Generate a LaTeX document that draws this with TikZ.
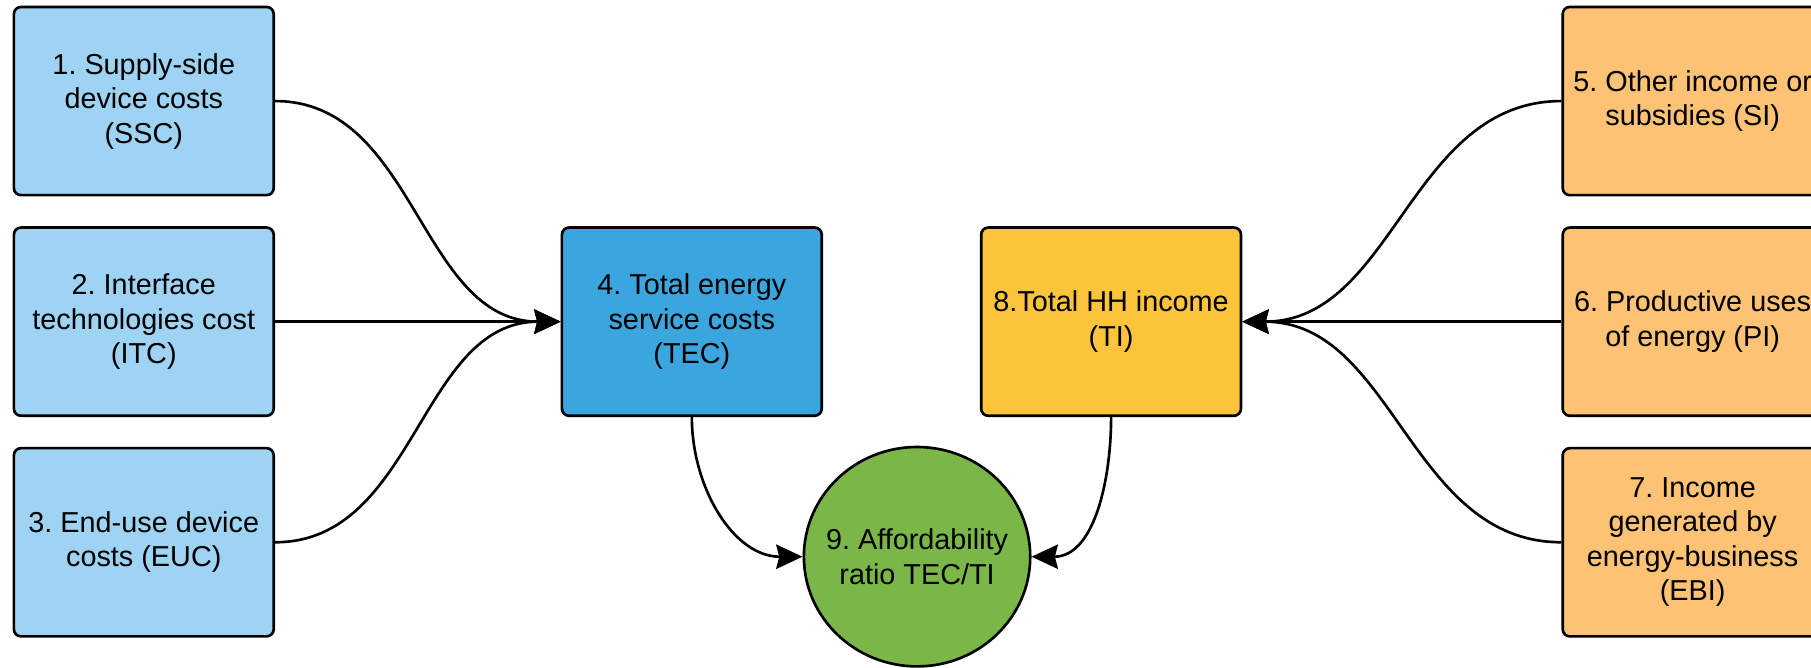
\documentclass[tikz,border=0pt]{standalone}
\usepackage{fontspec}
\setmainfont{Liberation Sans}
\usetikzlibrary{arrows.meta,shapes.geometric}
\definecolor{lblue}{HTML}{9ED3F3}
\definecolor{dblue}{HTML}{3BA5DD}
\definecolor{hhyellow}{HTML}{FCC43B}
\definecolor{lorange}{HTML}{FDC273}
\definecolor{cgreen}{HTML}{7AB648}
\tikzset{
  lbl/.style={align=center, font=\fontsize{14.2}{17}\selectfont},
  box/.style={lbl, draw=black, line width=1.3pt, rounded corners=3.5pt, minimum width=4.5cm, minimum height=3.26cm,
    inner sep=2pt},
  costbox/.style={box, fill=lblue},
  tecbox/.style={box, fill=dblue},
  incbox/.style={box, fill=lorange},
  hhbox/.style={box, fill=hhyellow},
  ratio/.style={draw=black, line width=1.3pt, ellipse, fill=cgreen, minimum width=3.92cm, minimum height=3.8cm,
    inner sep=0pt},
  conn/.style={draw=black, line width=1.3pt, -{Stealth[length=13pt,width=12pt,inset=1.5pt]}}
}
\begin{document}
\frenchspacing
\begin{tikzpicture}[x=0.02cm, y=-0.02cm]
\useasboundingbox (0,0) rectangle (1568,578);
\clip (0,0) rectangle (1568,578);
\node[costbox] (b1) at (124.5,87.5) {1. Supply-side\\device costs\\(SSC)};
\node[costbox] (b2) at (124.5,278.5) {2. Interface\\technologies cost\\(ITC)};
\node[costbox] (b3) at (124.5,469.5) {3. End-use device\\costs (EUC)};
\node[tecbox] (b4) at (599,278.5) {4. Total energy\\service costs\\(TEC)};
\node[hhbox] (b8) at (962,278.5) {8.Total HH income\\(TI)};
\node[incbox] (b5) at (1465.5,87.5) {5. Other income or\\subsidies (SI)};
\node[incbox] (b6) at (1465.5,278.5) {6. Productive uses\\of energy (PI)};
\node[incbox] (b7) at (1465.5,469.5) {7. Income\\generated by\\energy-business\\(EBI)};
\node[ratio] (c9) at (794,482) {};
\node[lbl] (c9t) at (c9.center) {9. Affordability\\ratio TEC/TI};
\draw[conn] (b1.east) to[out=0,in=180] (b4.west);
\draw[conn] (b2.east) -- (b4.west);
\draw[conn] (b3.east) to[out=0,in=180] (b4.west);
\draw[conn] (b5.west) to[out=180,in=0] (b8.east);
\draw[conn] (b6.west) -- (b8.east);
\draw[conn] (b7.west) to[out=180,in=0] (b8.east);
\draw[conn] (b4.south) to[out=-90,in=180] (c9.west);
\draw[conn] (b8.south) to[out=-90,in=0] (c9.east);
\end{tikzpicture}
\end{document}
